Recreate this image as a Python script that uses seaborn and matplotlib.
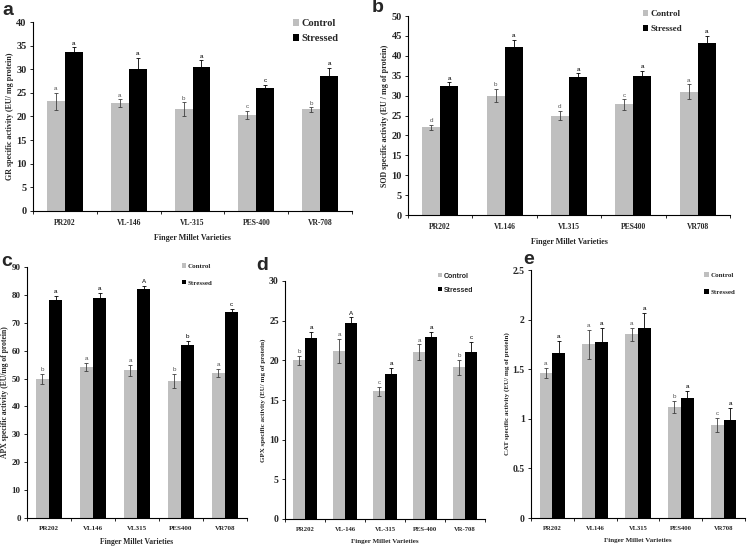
import numpy as np
import pandas as pd
import matplotlib
matplotlib.use("Agg")
import matplotlib.pyplot as plt
from matplotlib.patches import Patch
import seaborn as sns

sns.set_style("ticks")
plt.rcParams["font.family"] = ["Liberation Serif", "DejaVu Serif"]
plt.rcParams["font.weight"] = "bold"

groups = ["Control", "Stressed"]

# a - GR
gr_vars = ["PR202", "VL-146", "VL-315", "PES-400", "VR-708"]
gr_ctrl = [23.2, 22.9, 21.6, 20.3, 21.5]
gr_ctrl_err = [1.8, 0.8, 1.4, 0.9, 0.5]
gr_str = [33.7, 30.1, 30.5, 26.1, 28.6]
gr_str_err = [1.0, 2.3, 1.4, 0.6, 1.7]
gr_ctrl_let = ["a", "a", "b", "c", "b"]
gr_str_let = ["a", "a", "a", "c", "a"]

# b - SOD
sod_vars = ["PR202", "VL146", "VL315", "PES400", "VR708"]
sod_ctrl = [22.0, 30.0, 25.0, 27.8, 31.0]
sod_ctrl_err = [0.7, 1.7, 1.2, 1.3, 1.8]
sod_str = [32.3, 42.2, 34.6, 35.0, 43.1]
sod_str_err = [1.0, 1.8, 1.0, 1.3, 1.9]
sod_ctrl_let = ["d", "b", "d", "c", "a"]
sod_str_let = ["a", "a", "a", "a", "a"]

# c - APX
apx_vars = ["PR202", "VL146", "VL315", "PES400", "VR708"]
apx_ctrl = [50.0, 54.0, 53.0, 49.0, 52.0]
apx_ctrl_err = [1.8, 1.4, 2.0, 2.5, 1.6]
apx_str = [78.3, 79.0, 82.0, 62.0, 74.0]
apx_str_err = [1.3, 1.5, 1.3, 1.5, 0.8]
apx_ctrl_let = ["b", "a", "a", "b", "a"]
apx_str_let = ["a", "a", "A", "b", "c"]

# d - GPX
gpx_vars = ["PR202", "VL-146", "VL-315", "PES-400", "VR-708"]
gpx_ctrl = [20.0, 21.2, 16.1, 21.0, 19.1]
gpx_ctrl_err = [0.6, 1.5, 0.6, 1.0, 1.0]
gpx_str = [22.8, 24.7, 18.3, 23.0, 21.0]
gpx_str_err = [0.8, 0.7, 0.7, 0.6, 1.3]
gpx_ctrl_let = ["b", "a", "c", "a", "b"]
gpx_str_let = ["a", "A", "a", "a", "c"]

# e - CAT
cat_vars = ["PR202", "VL146", "VL315", "PES400", "VR708"]
cat_ctrl = [1.46, 1.75, 1.85, 1.12, 0.94]
cat_ctrl_err = [0.05, 0.15, 0.07, 0.06, 0.07]
cat_str = [1.66, 1.77, 1.92, 1.21, 0.99]
cat_str_err = [0.12, 0.15, 0.15, 0.07, 0.12]
cat_ctrl_let = ["a", "a", "a", "b", "c"]
cat_str_let = ["a", "a", "a", "a", "a"]

palette = {"Control": "#BFBFBF", "Stressed": "black"}

W, H = 747, 549
fig = plt.figure(figsize=(7.47, 5.49), dpi=100)


def px_rect(left, right, top, bottom):
    return [left / W, 1 - bottom / H, (right - left) / W, (bottom - top) / H]


def panel(rect, letter, letter_px, varieties, ctrl, ctrl_err, strd, strd_err,
          c_let, s_let, ymax, ystep, ylabel, width, fs_tick, fs_x, fs_lab,
          leg_fs, leg_xy, leg_sp, leg_serif=True):
    ax = fig.add_axes(rect)
    df = pd.DataFrame({
        "variety": varieties * 2,
        "group": ["Control"] * 5 + ["Stressed"] * 5,
        "value": ctrl + strd,
    })
    sns.barplot(data=df, x="variety", y="value", hue="group", palette=palette,
                width=width, errorbar=None, legend=False, ax=ax,
                saturation=1, edgecolor="none")
    errs = [ctrl_err, strd_err]
    lets = [c_let, s_let]
    vals = [ctrl, strd]
    ecols = ["#404040", "black"]
    bar_conts = list(ax.containers)
    for k, cont in enumerate(bar_conts):
        for i, bar in enumerate(cont):
            xc = bar.get_x() + bar.get_width() / 2
            ax.errorbar(xc, vals[k][i], yerr=errs[k][i], color=ecols[k],
                        lw=0.6, capsize=1.3, capthick=0.6)
            ax.text(xc, vals[k][i] + errs[k][i] + ymax * 0.008, lets[k][i],
                    ha="center", va="bottom", fontsize=4.5,
                    color="#555555" if k == 0 else "black",
                    family=["Liberation Sans", "DejaVu Sans"], fontweight="normal")
    ax.set_ylim(0, ymax)
    ax.set_xlim(-0.5, 4.5)
    ticks = np.arange(0, ymax + ystep / 2, ystep)
    ax.set_yticks(ticks)
    ax.set_yticklabels([("%g" % v) for v in ticks], fontsize=fs_tick, fontweight="bold")
    ax.set_xticks(range(5))
    ax.set_xticklabels(varieties, fontsize=fs_x, fontweight="bold")
    ax.set_xticks(np.arange(-0.5, 5, 1), minor=True)
    ax.tick_params(axis="x", which="major", length=0, pad=6)
    ax.tick_params(axis="x", which="minor", length=2.5, width=0.7, direction="out")
    ax.tick_params(axis="y", length=2.5, width=0.7, direction="out", pad=2)
    ax.set_xlabel("Finger Millet Varieties", fontsize=fs_lab, fontweight="bold",
                  labelpad=5)
    ax.set_ylabel(ylabel, fontsize=fs_lab, fontweight="bold", labelpad=2)
    sns.despine(ax=ax)
    for s in ["left", "bottom"]:
        ax.spines[s].set_linewidth(0.8)
        ax.spines[s].set_color("black")
    handles = [Patch(facecolor=palette[g], edgecolor="none", label=g) for g in groups]
    leg_fam = ["Liberation Serif"] if leg_serif else ["Liberation Sans Narrow", "Liberation Sans"]
    ax.legend(handles=handles, loc="upper left", bbox_to_anchor=leg_xy, frameon=False,
              handlelength=0.6, handleheight=0.6, handletextpad=0.25,
              labelspacing=leg_sp, borderaxespad=0, borderpad=0,
              prop={"size": leg_fs, "weight": "bold", "family": leg_fam})
    fig.text(letter_px[0] / W, 1 - letter_px[1] / H, letter, fontsize=14,
             fontweight="bold", family=["Liberation Sans", "DejaVu Sans"],
             va="baseline", ha="left")
    return ax


panel(px_rect(33, 352, 22, 211), "a", (2, 15), gr_vars, gr_ctrl, gr_ctrl_err,
      gr_str, gr_str_err, gr_ctrl_let, gr_str_let, 40, 5,
      "GR specific activity (EU/ mg protein)", 0.56, 7.5, 5.5, 5.8, 7.5,
      (0.815, 1.016), 0.6)

panel(px_rect(408, 730, 16, 215), "b", (372, 12), sod_vars, sod_ctrl, sod_ctrl_err,
      sod_str, sod_str_err, sod_ctrl_let, sod_str_let, 50, 5,
      "SOD specific activity (EU / mg of protein)", 0.56, 7.5, 5.5, 5.8, 6.5,
      (0.73, 1.03), 0.75)

panel(px_rect(27, 247, 267, 518), "c", (1, 266), apx_vars, apx_ctrl, apx_ctrl_err,
      apx_str, apx_str_err, apx_ctrl_let, apx_str_let, 90, 10,
      "APX specific activity (EU/mg of protein)", 0.6, 6.5, 5, 5.5, 5,
      (0.705, 1.015), 1.6)

panel(px_rect(285, 485, 281, 519), "d", (256, 270), gpx_vars, gpx_ctrl, gpx_ctrl_err,
      gpx_str, gpx_str_err, gpx_ctrl_let, gpx_str_let, 30, 5,
      "GPX specific activity (EU/ mg of protein)", 0.6, 7, 4.8, 5, 5,
      (0.765, 1.035), 1.0, False)

panel(px_rect(531, 745, 270, 518), "e", (523, 264), cat_vars, cat_ctrl, cat_ctrl_err,
      cat_str, cat_str_err, cat_ctrl_let, cat_str_let, 2.5, 0.5,
      "CAT specific activity (EU/ mg of protein)", 0.6, 7, 4.8, 5, 5,
      (0.81, 0.99), 1.6)

fig.savefig("out.png", dpi=100)
